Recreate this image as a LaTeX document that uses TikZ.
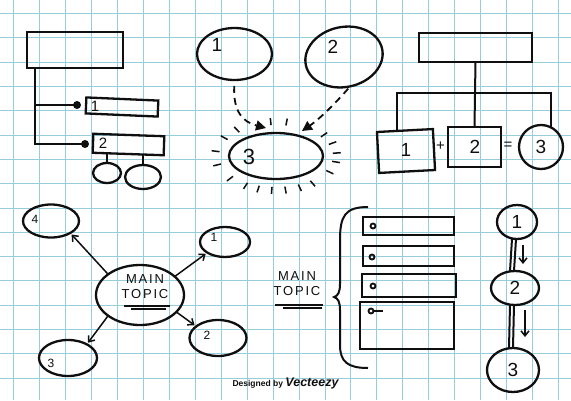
\documentclass[tikz,border=0pt]{standalone}
\usepackage{fontspec}
\setmainfont{Liberation Sans}
\newfontfamily\handcaps[LetterSpace=14]{Liberation Sans}
\usetikzlibrary{shapes.geometric,arrows.meta,calc}
\definecolor{gridc}{RGB}{150,205,220}
\definecolor{ink}{RGB}{15,15,15}
\begin{document}
\begin{tikzpicture}[x=1pt,y=-1pt,
  stroke/.style={draw=ink, line width=2.3pt},
  box/.style={stroke, rectangle, inner sep=0pt, outer sep=0pt},
  thickbox/.style={draw=ink, line width=2.8pt, rectangle, inner sep=0pt, outer sep=0pt},
  oval/.style={stroke, ellipse, inner sep=0pt, outer sep=0pt},
  wire/.style={draw=ink, line width=2pt},
  dashline/.style={draw=ink, line width=1.8pt, dash pattern=on 7pt off 5pt},
  arr/.style={draw=ink, line width=1.5pt, -{Straight Barb[length=5pt,width=8pt]}},
  dotnode/.style={circle, fill=ink, minimum size=8pt, inner sep=0pt, outer sep=0pt},
  hole/.style={circle, draw=ink, line width=1.8pt, minimum size=5pt, inner sep=0pt, outer sep=0pt},
  ray/.style={draw=ink, line width=1.5pt},
  numbig/.style={font=\fontsize{19}{19}\selectfont, text=ink, inner sep=0pt},
  nummid/.style={font=\fontsize{15}{15}\selectfont, text=ink, inner sep=0pt},
  numsmall/.style={font=\fontsize{12}{12}\selectfont, text=ink, inner sep=0pt},
  topic/.style={font=\handcaps\fontsize{13}{15}\selectfont, text=ink, align=center, inner sep=0pt}
]
\useasboundingbox (0,0) rectangle (571,400);
\fill[white] (0,0) rectangle (571,400);
\foreach \i in {0,...,21} \draw[gridc, line width=0.8pt] ({13.5+25.95*\i},0) -- ({13.5+25.95*\i},400);
\foreach \j in {0,...,15} \draw[gridc, line width=0.8pt] (0,{13.5+24.3*\j}) -- (571,{13.5+24.3*\j});

% ---------- top left tree ----------
\node[box, minimum width=96pt, minimum height=36pt] (tl) at (75,50) {};
\coordinate (trunk) at (35,68);
\node[dotnode] (d1) at (77,105) {};
\node[dotnode] (d2) at (85,144) {};
\draw[wire] (trunk) |- (d1.center);
\draw[wire] (trunk) |- (d2.center);
\node[box, minimum width=72pt, minimum height=16pt, rotate=-2.5] (b1) at (122,107) {};
\node[nummid] (b1l) at (95,106) {1};
\node[box, minimum width=71pt, minimum height=19pt, rotate=-2] (b2) at (128.5,144.5) {};
\node[nummid] (b2l) at (103,143) {2};
\node[oval, minimum width=28pt, minimum height=20pt] (el1) at (107,173) {};
\node[oval, minimum width=36pt, minimum height=24pt] (el2) at (143,177) {};
\draw[wire, line width=2.6pt] (el1.north) -- (el1.north |- b2.south);
\draw[wire, line width=2.6pt] (el2.north) -- (el2.north |- b2.south);

% ---------- top middle ----------
\node[oval, minimum width=75pt, minimum height=52pt] (m1) at (234.5,54) {};
\node[numbig] (m1l) at (217,45) {1};
\node[oval, minimum width=78pt, minimum height=60pt, rotate=12] (m2) at (344,57) {};
\node[numbig] (m2l) at (333,47) {2};
\node[oval, minimum width=94pt, minimum height=46pt] (m3) at (276,156) {};
\node[font=\fontsize{22}{22}\selectfont, text=ink, inner sep=0pt] (m3l) at (249,157) {3};
\draw[dashline, -{Triangle[length=10pt,width=10pt]}, shorten <=6pt]
  (m1.south) .. controls (233,112) and (243,122) .. ($(m3.north)+(-10,-5)$);
\draw[dashline, -{Triangle[length=10pt,width=10pt]}, shorten <=3pt]
  (m2.south) .. controls (331,108) and (318,120) .. ($(m3.north)+(26,-2)$);
\foreach \t in {95,80,130,148,172,195,221,240,253,266,279,293,307,38,22,5,-10,-28}
  \draw[ray] ($(m3.center)+({57*cos(\t)},{-31*sin(\t)})$) -- ($(m3.center)+({65*cos(\t)},{-38*sin(\t)})$);

% ---------- top right ----------
\node[box, minimum width=113pt, minimum height=29pt] (tr) at (475.5,47.5) {};
\coordinate (bus) at (476,93);
\node[box, minimum width=56pt, minimum height=41pt, rotate=3] (r1) at (406,151) {};
\node[numbig] (r1l) at (406,150) {1};
\node[box, minimum width=53pt, minimum height=40pt] (r2) at (474.5,147) {};
\node[numbig] (r2l) at (475,147) {2};
\node[stroke, circle, minimum size=44pt, inner sep=0pt, outer sep=0pt] (r3) at (541,147) {};
\node[numbig] (r3l) at (541,147) {3};
\node[nummid] (plus) at (440.5,146) {+};
\node[nummid] (eq) at (508,146) {=};
\draw[wire] (tr.south) -- (r2.north);
\draw[wire] (r1.110) -- (r1.110 |- bus) -- (bus -| r3.62) -- (r3.62);

% ---------- mind map ----------
\node[oval, minimum width=88pt, minimum height=60pt] (mt) at (140,295) {};
\node[topic] (mtl) at (145,287) {MAIN\\TOPIC};
\draw[wire, line width=1.8pt] (124,306) -- (170,306);
\draw[wire, line width=1.2pt] (131,309) -- (166,309);
\node[oval, minimum width=56pt, minimum height=33pt] (o4) at (51,221) {};
\node[numsmall] (o4l) at (35,219) {4};
\node[oval, minimum width=50pt, minimum height=30pt] (o1) at (225,242) {};
\node[numsmall] (o1l) at (214,237) {1};
\node[oval, minimum width=57pt, minimum height=36pt] (o2) at (218,338) {};
\node[numsmall] (o2l) at (207,335) {2};
\node[oval, minimum width=58pt, minimum height=36pt] (o3) at (68,358) {};
\node[numsmall] (o3l) at (51,363) {3};
\draw[arr, shorten >=2pt] (mt.147) -- (o4.-32);
\draw[arr, shorten >=2pt] (mt.28) -- (o1.211);
\draw[arr, shorten >=2pt] (mt.-25) -- (o2.152);
\draw[arr, shorten >=2pt] (mt.213) -- (o3.36);

% ---------- brace list ----------
\node[topic] (bt) at (297,284) {MAIN\\TOPIC};
\draw[wire, line width=1.8pt] (275,305) -- (323,305);
\draw[wire, line width=1.2pt] (283,308) -- (322,308);
\draw[wire] (368,207) .. controls (345,207) and (340,216) .. (340,240) -- (340,284)
  .. controls (340,292) and (338,296) .. (334,297)
  .. controls (338,298) and (340,302) .. (340,310) -- (340,345)
  .. controls (340,362) and (348,368) .. (368,368);
\node[thickbox, minimum width=91pt, minimum height=18pt] (s1) at (408.5,226) {};
\node[thickbox, minimum width=91pt, minimum height=20pt] (s2) at (408.5,256) {};
\node[thickbox, minimum width=94pt, minimum height=23pt] (s3) at (409,285.5) {};
\node[thickbox, minimum width=94pt, minimum height=47pt] (s4) at (407,325.5) {};
\node[hole] (h1) at (373,226) {};
\node[hole] (h2) at (372,257) {};
\node[hole] (h3) at (373,286) {};
\node[hole] (h4) at (371,311) {};
\draw[wire, line width=1.8pt] (h4.east) -- ++(9,0);

% ---------- vertical chain ----------
\node[oval, minimum width=40pt, minimum height=34pt] (c1) at (517,222) {};
\node[numbig] (c1l) at (517,222) {1};
\node[oval, minimum width=48pt, minimum height=34pt] (c2) at (515,288) {};
\node[numbig] (c2l) at (515,288) {2};
\node[oval, minimum width=52pt, minimum height=44pt] (c3) at (513,370) {};
\node[numbig] (c3l) at (513,370) {3};
\draw[wire] ($(c1.south)+(-5,0)$) -- ($(c2.north)+(-5,0)$);
\draw[wire] ($(c1.south)+(-1,0)$) -- ($(c2.north)+(-1,0)$);
\draw[wire] ($(c2.south)+(-5,0)$) -- ($(c3.north)+(-4,0)$);
\draw[wire] ($(c2.south)+(-1,0)$) -- ($(c3.north)+(0,0)$);
\draw[arr] ($(c1.south)+(6,6)$) -- ($(c2.north)+(8,-7)$);
\draw[arr] ($(c2.south)+(10,5)$) -- ($(c3.north)+(12,-11)$);

% ---------- watermark ----------
\node[text=ink, inner sep=0pt] (wm) at (285.5,383) {\fontsize{8.5}{9}\selectfont\bfseries Designed by \fontsize{12.5}{13}\selectfont\bfseries\itshape Vecteezy};
\end{tikzpicture}
\end{document}
